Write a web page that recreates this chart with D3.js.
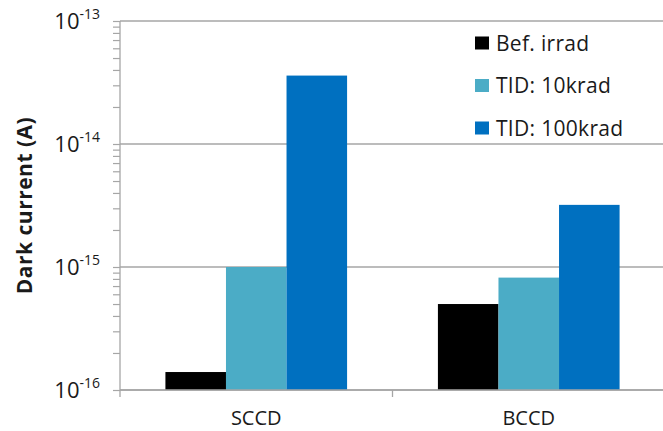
<!DOCTYPE html>
<html>
<head>
<meta charset="utf-8">
<script src="https://cdn.jsdelivr.net/npm/d3@7"></script>
<style>
  html, body { margin: 0; padding: 0; background: #fff; }
  svg { display: block; font-family: "Open Sans", "Noto Sans", sans-serif; }
</style>
</head>
<body>
<svg id="chart" width="663" height="431"></svg>
<script>
// Dark current per device, before and after total ionizing dose
const categories = ["SCCD", "BCCD"];
const seriesNames = ["Bef. irrad", "TID: 10krad", "TID: 100krad"];
const seriesColors = ["#000000", "#4bacc6", "#0070c0"];
const befIrrad = [1.4e-16, 5.0e-16];
const tid10krad = [1.0e-15, 8.2e-16];
const tid100krad = [3.6e-14, 3.2e-15];
const yExponents = [-16, -15, -14, -13];

const seriesValues = [befIrrad, tid10krad, tid100krad];

const svg = d3.select("#chart");
const margin = { left: 120, top: 21, right: 665, bottom: 390 };
const gridColor = "#a6a6a6";
const textColor = "#1a1a1a";

const x = d3.scaleBand().domain(categories).range([margin.left, margin.right]);
const xInner = d3.scaleBand().domain(seriesNames)
  .range([0, x.bandwidth()]).paddingOuter(0.75).paddingInner(0);
const y = d3.scaleLog().domain([1e-16, 1e-13]).range([margin.bottom, margin.top]);

// Horizontal gridlines at each decade
const majors = yExponents.map(e => Math.pow(10, e));
svg.append("g").selectAll("line").data(majors).join("line")
  .attr("x1", margin.left).attr("x2", 663)
  .attr("y1", d => y(d)).attr("y2", d => y(d))
  .attr("stroke", gridColor).attr("stroke-width", 1.3);

// Bars
const groups = svg.append("g").selectAll("g").data(categories).join("g")
  .attr("transform", d => `translate(${x(d)},0)`);
groups.selectAll("rect")
  .data((c, ci) => seriesNames.map((s, si) => ({ s, si, v: seriesValues[si][ci] })))
  .join("rect")
  .attr("x", d => xInner(d.s))
  .attr("width", xInner.bandwidth())
  .attr("y", d => y(d.v))
  .attr("height", d => y(1e-16) - y(d.v))
  .attr("fill", d => seriesColors[d.si]);

// Left axis with minor ticks at 2..9 of each decade
const minorTicks = [];
for (let e = -16; e < -13; e++) {
  for (let k = 2; k <= 9; k++) minorTicks.push(k * Math.pow(10, e));
}
const yAxisG = svg.append("g").attr("transform", `translate(${margin.left},0)`);
yAxisG.call(d3.axisLeft(y).tickValues(majors.concat(minorTicks)).tickSize(7)
  .tickFormat(() => "").tickSizeOuter(0));
yAxisG.selectAll("line").attr("stroke", gridColor).attr("stroke-width", 1.2);
yAxisG.select(".domain").remove();
yAxisG.append("line").attr("x1", 0).attr("x2", 0)
  .attr("y1", margin.top).attr("y2", margin.bottom + 7)
  .attr("stroke", gridColor).attr("stroke-width", 1.3);

// Decade labels with superscript exponents
const labels = svg.append("g").selectAll("text").data(yExponents).join("text")
  .attr("x", 100).attr("y", e => y(Math.pow(10, e)) + 7.5)
  .attr("text-anchor", "end").attr("fill", textColor).attr("font-size", 22);
labels.append("tspan").text("10");
labels.append("tspan").attr("dy", -9.5).attr("font-size", 14).text(e => String(e));

// Bottom category axis
const xAxisG = svg.append("g").attr("transform", `translate(0,${margin.bottom})`);
xAxisG.append("line").attr("x1", margin.left).attr("x2", 663)
  .attr("y1", 0).attr("y2", 0).attr("stroke", gridColor).attr("stroke-width", 1.3);
xAxisG.selectAll("line.div").data(categories.slice(1)).join("line")
  .attr("class", "div")
  .attr("x1", d => x(d)).attr("x2", d => x(d))
  .attr("y1", 0).attr("y2", 7).attr("stroke", gridColor).attr("stroke-width", 1.3);
xAxisG.selectAll("text").data(categories).join("text")
  .attr("x", d => x(d) + x.bandwidth() / 2).attr("y", 35)
  .attr("text-anchor", "middle").attr("font-size", 20).attr("fill", textColor)
  .text(d => d);

// Y axis title
svg.append("text")
  .attr("transform", `translate(32,${(margin.top + margin.bottom) / 2}) rotate(-90)`)
  .attr("text-anchor", "middle").attr("font-size", 21).attr("font-weight", "bold")
  .attr("letter-spacing", 0.5).attr("fill", textColor).text("Dark current (A)");

// Legend
const legend = svg.append("g").selectAll("g").data(seriesNames).join("g")
  .attr("transform", (d, i) => `translate(475,${43 + i * 42.5})`);
legend.append("rect").attr("x", 0).attr("y", -6.5).attr("width", 14).attr("height", 13)
  .attr("fill", (d, i) => seriesColors[i]);
legend.append("text").attr("x", 21).attr("y", 7.5)
  .attr("font-size", 21).attr("letter-spacing", 0.3).attr("fill", textColor).text(d => d);
</script>
</body>
</html>
